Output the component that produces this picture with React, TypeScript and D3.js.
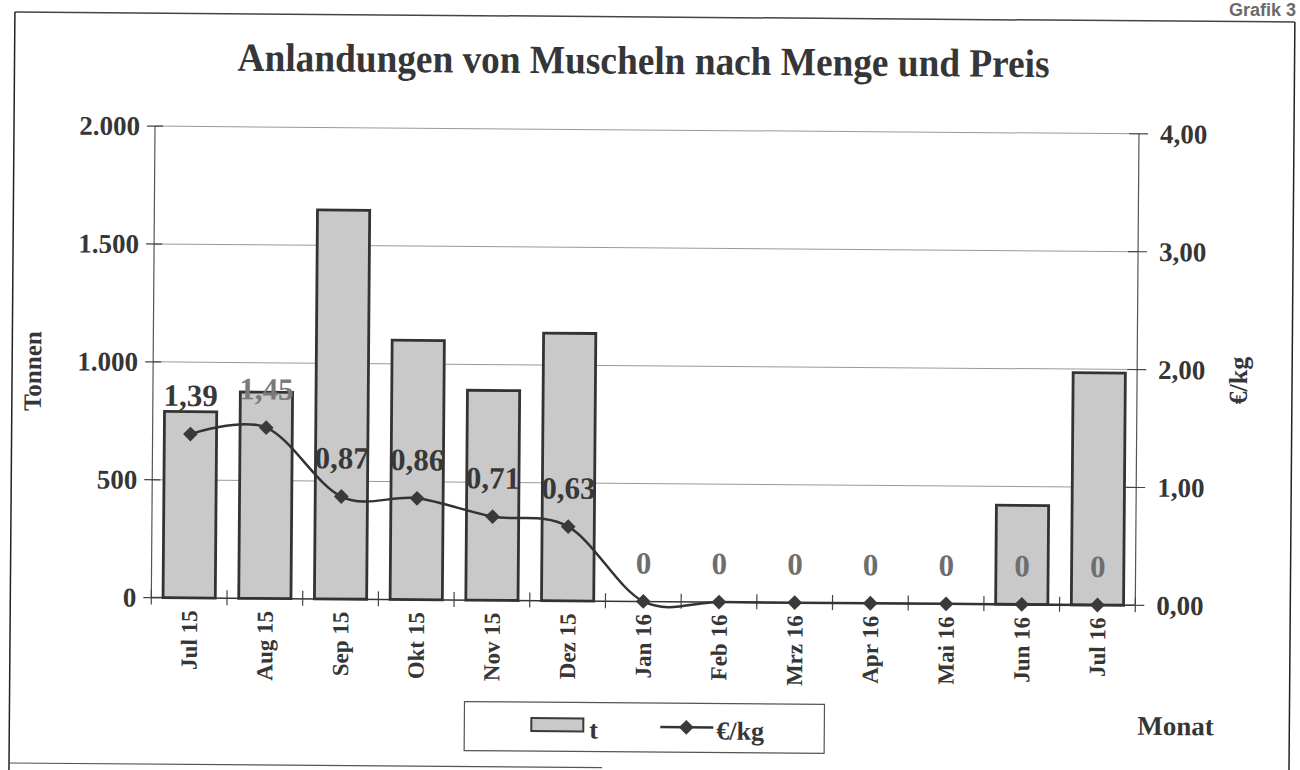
import React from "react";
import * as d3 from "d3";

// Monate, Mengen (t) und Preise (€/kg)
const months = [
  "Jul 15", "Aug 15", "Sep 15", "Okt 15", "Nov 15", "Dez 15",
  "Jan 16", "Feb 16", "Mrz 16", "Apr 16", "Mai 16", "Jun 16", "Jul 16",
];
const tonnen = [790, 875, 1650, 1100, 890, 1135, 0, 0, 0, 0, 0, 420, 985];
const preis = [1.39, 1.45, 0.87, 0.86, 0.71, 0.63, 0, 0, 0, 0, 0, 0, 0];
const leftTicks = [0, 500, 1000, 1500, 2000];
const rightTicks = [0, 1, 2, 3, 4];

const W = 1300;
const H = 770;
const left = 153;
const right = 1137;
const top = 130;
const bottom = 601.5;

const de = d3.formatLocale({
  decimal: ",",
  thousands: ".",
  grouping: [3],
  currency: ["", " €"],
});
const fmtT = de.format(",.0f");
const fmtP = de.format(",.2f");

const serif = "'Liberation Serif', 'Times New Roman', serif";
const ink = "#363636";

const App: React.FC = () => {
  const x = d3.scaleBand().domain(months).range([left, right]).paddingInner(0.31).paddingOuter(0.155);
  const yL = d3.scaleLinear().domain([0, 2000]).range([bottom, top]);
  const yR = d3.scaleLinear().domain([0, 4]).range([bottom, top]);
  const cx = (m: string) => (x(m) as number) + x.bandwidth() / 2;
  const step = x.step();

  const line = d3
    .line<number>()
    .x((_, i) => cx(months[i]))
    .y((d) => yR(d))
    .curve(d3.curveCatmullRom.alpha(0));

  const diamond = d3.symbol(d3.symbolDiamond2, 140)() as string;

  const boundaries = d3.range(months.length + 1).map((i) => left + i * step);

  return (
    <svg
      width={W}
      height={H}
      style={{ position: "absolute", left: 0, top: 0, background: "#fff" }}
      fontFamily={serif}
      fontWeight="bold"
    >
      <rect width={W} height={H} fill="#fff" />
      <text
        x={1296}
        y={16}
        textAnchor="end"
        fontFamily="'Liberation Sans', Arial, sans-serif"
        fontSize={18}
        fill="#6a6a6a"
      >
        Grafik 3
      </text>
      <g transform="rotate(0.45 650 385)">
        {/* Seitenrahmen */}
        <line x1={12} y1={17} x2={1292} y2={17} stroke="#444" strokeWidth={1.5} />
        <line x1={12} y1={17} x2={12} y2={780} stroke="#222" strokeWidth={1.5} />
        <line x1={1292} y1={17} x2={1292} y2={780} stroke="#222" strokeWidth={1.5} />
        <line x1={12} y1={768} x2={605} y2={768} stroke="#555" strokeWidth={1.2} />

        {/* Titel */}
        <text
          x={235}
          y={74}
          fontSize={40}
          fill={ink}
          textLength={812}
          lengthAdjust="spacingAndGlyphs"
        >
          Anlandungen von Muscheln nach Menge und Preis
        </text>

        {/* Gitterlinien */}
        {leftTicks.slice(1).map((t) => (
          <line key={t} x1={left} x2={right} y1={yL(t)} y2={yL(t)} stroke="#9a9a9a" strokeWidth={1} />
        ))}

        {/* Balken */}
        {tonnen.map((v, i) =>
          v > 0 ? (
            <rect
              key={months[i]}
              x={x(months[i])}
              y={yL(v)}
              width={x.bandwidth()}
              height={yL(0) - yL(v)}
              fill="#c9c9c9"
              stroke="#333"
              strokeWidth={2.8}
            />
          ) : null
        )}

        {/* Achsen */}
        <line x1={left} x2={left} y1={top} y2={bottom} stroke="#555" strokeWidth={1.2} />
        <line x1={right} x2={right} y1={top} y2={bottom} stroke="#555" strokeWidth={1.2} />
        <line x1={left} x2={right} y1={bottom} y2={bottom} stroke="#333" strokeWidth={1.5} />
        {boundaries.map((b, i) => (
          <line key={i} x1={b} x2={b} y1={bottom - 8} y2={bottom + 7} stroke="#444" strokeWidth={1.2} />
        ))}
        {leftTicks.map((t) => (
          <g key={t}>
            <line x1={left - 8} x2={left + 8} y1={yL(t)} y2={yL(t)} stroke="#444" strokeWidth={1.2} />
            <text x={138} y={yL(t)} dy="0.34em" textAnchor="end" fontSize={27} fill={ink}>
              {fmtT(t)}
            </text>
          </g>
        ))}
        {rightTicks.map((t) => (
          <g key={t}>
            <line x1={right - 10} x2={right + 9} y1={yR(t)} y2={yR(t)} stroke="#444" strokeWidth={1.2} />
            <text x={1158} y={yR(t)} dy="0.34em" textAnchor="start" fontSize={27} fill={ink}>
              {fmtP(t)}
            </text>
          </g>
        ))}

        {/* Monatsbeschriftung */}
        {months.map((m) => (
          <text
            key={m}
            transform={`translate(${cx(m) + 8},${614}) rotate(-90)`}
            textAnchor="end"
            fontSize={23}
            fill={ink}
          >
            {m}
          </text>
        ))}

        {/* Preislinie */}
        <path d={line(preis) as string} fill="none" stroke="#333" strokeWidth={2.5} />
        {preis.map((p, i) => (
          <path
            key={months[i]}
            d={diamond}
            transform={`translate(${cx(months[i])},${yR(p)})`}
            fill="#3a3a3a"
          />
        ))}

        {/* Datenbeschriftung */}
        {preis.map((p, i) => (
          <text
            key={months[i]}
            x={cx(months[i])}
            y={yR(p) - 28}
            textAnchor="middle"
            fontSize={31}
            fill={p === 0 ? "#6e6e6e" : i === 1 ? "#7a7a7a" : "#383838"}
          >
            {p === 0 ? "0" : fmtP(p)}
          </text>
        ))}

        {/* Achsentitel */}
        <text transform="translate(41,376) rotate(-90)" textAnchor="middle" fontSize={25} fill={ink}>
          Tonnen
        </text>
        <text transform="translate(1247,376) rotate(-90)" textAnchor="middle" fontSize={26} fill={ink}>
          €/kg
        </text>
        <text x={1140} y={731} fontSize={27} fill={ink}>
          Monat
        </text>

        {/* Legende */}
        <rect x={467} y={703} width={360} height={49} fill="#fff" stroke="#555" strokeWidth={1.2} />
        <rect x={534} y={719} width={52} height={13} fill="#c9c9c9" stroke="#3a3a3a" strokeWidth={2} />
        <text x={592} y={739} fontSize={26} fill={ink}>
          t
        </text>
        <line x1={663} x2={716} y1={727} y2={727} stroke="#333" strokeWidth={2.5} />
        <path d={diamond} transform="translate(689,727)" fill="#3a3a3a" />
        <text x={719} y={739} fontSize={26} fill={ink}>
          €/kg
        </text>
      </g>
    </svg>
  );
};

export default App;
